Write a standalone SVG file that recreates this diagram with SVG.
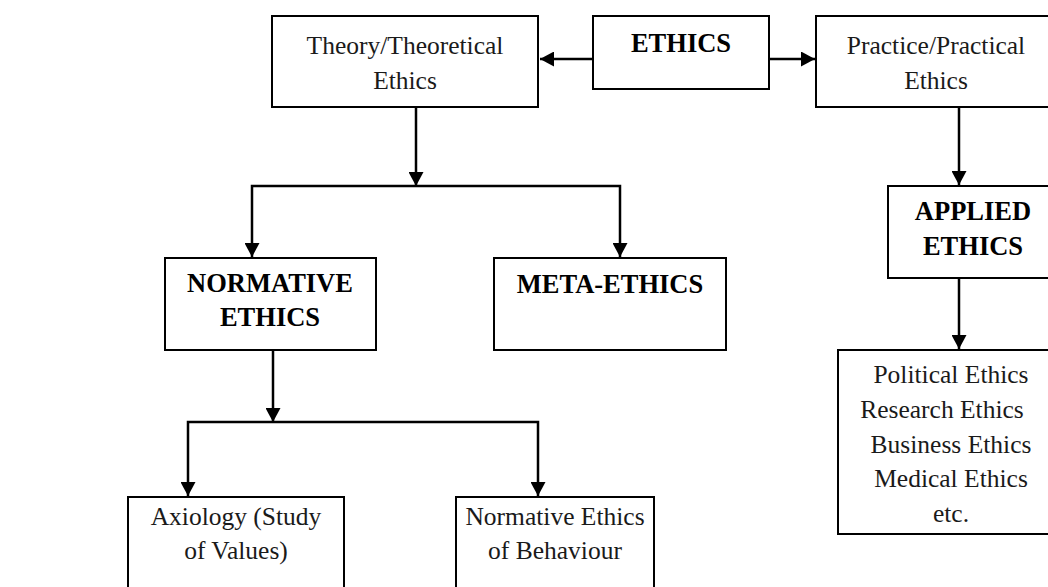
<svg xmlns="http://www.w3.org/2000/svg" width="1048" height="587" viewBox="0 0 1048 587">
<style>
.box{fill:#fff;stroke:#000;stroke-width:2}
.t{font-family:"Liberation Serif","Times New Roman",serif;font-size:25.5px;fill:#1a1a1a;text-anchor:middle}
.b{font-family:"Liberation Serif","Times New Roman",serif;font-size:26.5px;font-weight:bold;fill:#000;text-anchor:middle}
.c{fill:none;stroke:#000;stroke-width:2.5;stroke-linejoin:miter}
</style>
<defs>
<marker id="ah" markerUnits="userSpaceOnUse" markerWidth="15" markerHeight="15" refX="14" refY="7.5" orient="auto-start-reverse">
<path d="M0,0 L14,7.5 L0,15 z" fill="#000"/>
</marker>
</defs>
<rect width="1048" height="587" fill="#fff"/>
<g id="connectors">
<path class="c" d="M593,59 L540,59" marker-end="url(#ah)"/>
<path class="c" d="M769,59 L815,59" marker-end="url(#ah)"/>
<path class="c" d="M416,107 L416,186" marker-end="url(#ah)"/>
<path class="c" d="M252,257 L252,186 L620,186 L620,257" marker-start="url(#ah)" marker-end="url(#ah)"/>
<path class="c" d="M959,107 L959,185" marker-end="url(#ah)"/>
<path class="c" d="M959,278 L959,349" marker-end="url(#ah)"/>
<path class="c" d="M273,350 L273,422" marker-end="url(#ah)"/>
<path class="c" d="M188,496 L188,422 L538,422 L538,496" marker-start="url(#ah)" marker-end="url(#ah)"/>
</g>
<g id="theory">
<rect class="box" x="272" y="16" width="266" height="91"/>
<text class="t" x="405" y="54">Theory/Theoretical</text>
<text class="t" x="405" y="89">Ethics</text>
</g>
<g id="ethics">
<rect class="box" x="593" y="16" width="176" height="73"/>
<text class="b" x="681" y="52">ETHICS</text>
</g>
<g id="practice">
<rect class="box" x="816" y="16" width="244" height="91"/>
<text class="t" x="936" y="54">Practice/Practical</text>
<text class="t" x="936" y="89">Ethics</text>
</g>
<g id="normative">
<rect class="box" x="165" y="258" width="211" height="92"/>
<text class="b" x="270" y="292">NORMATIVE</text>
<text class="b" x="270" y="326">ETHICS</text>
</g>
<g id="meta">
<rect class="box" x="494" y="258" width="232" height="92"/>
<text class="b" x="610" y="293">META-ETHICS</text>
</g>
<g id="applied">
<rect class="box" x="888" y="186" width="172" height="92"/>
<text class="b" x="973" y="220">APPLIED</text>
<text class="b" x="973" y="255">ETHICS</text>
</g>
<g id="list">
<rect class="box" x="838" y="350" width="222" height="184"/>
<text class="t" x="951" y="383">Political Ethics</text>
<text class="t" x="942" y="418">Research Ethics</text>
<text class="t" x="951" y="453">Business Ethics</text>
<text class="t" x="951" y="487">Medical Ethics</text>
<text class="t" x="951" y="522">etc.</text>
</g>
<g id="axiology">
<rect class="box" x="128" y="497" width="216" height="110"/>
<text class="t" x="236" y="525">Axiology (Study</text>
<text class="t" x="236" y="559">of Values)</text>
</g>
<g id="behaviour">
<rect class="box" x="456" y="497" width="198" height="110"/>
<text class="t" x="555" y="525">Normative Ethics</text>
<text class="t" x="555" y="559">of Behaviour</text>
</g>
</svg>
